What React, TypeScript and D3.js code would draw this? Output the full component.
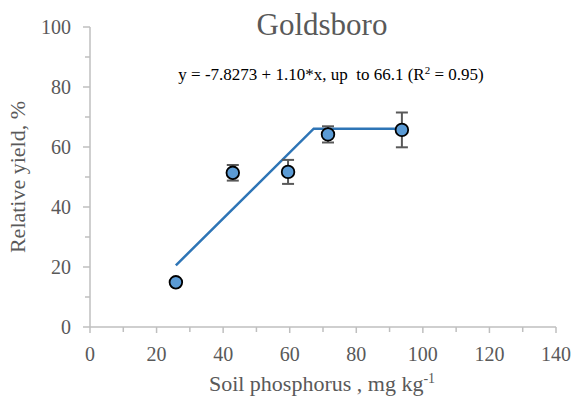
import React from 'react';
import * as d3 from 'd3';

// Soil P (mg/kg), relative yield (%), and error bar half-widths
const soilP = [25.8, 42.9, 59.5, 71.5, 93.7];
const relYield = [14.9, 51.4, 51.7, 64.2, 65.7];
const yieldErr = [0, 2.6, 4.0, 2.7, 5.8];

// Linear-plateau fit
const intercept = -7.8273;
const slope = 1.1;
const plateau = 66.1;
const fitStart = 25.8;
const fitEnd = 93.7;

const xTicks = [0, 20, 40, 60, 80, 100, 120, 140];
const yTicks = [0, 20, 40, 60, 80, 100];
const xMinor = [10, 30, 50, 70, 90, 110, 130];
const yMinor = [10, 30, 50, 70, 90];

const FONT = "'Liberation Serif', Tinos, 'Times New Roman', FreeSerif, serif";
const GREY = '#595959';
const AXIS = '#BFBFBF';

export default function App() {
  const x = d3.scaleLinear().domain([0, 140]).range([90, 556]);
  const y = d3.scaleLinear().domain([0, 100]).range([327, 27]);

  const join = (plateau - intercept) / slope;
  const fit: [number, number][] = [
    [fitStart, intercept + slope * fitStart],
    [join, plateau],
    [fitEnd, plateau],
  ];
  const line = d3
    .line<[number, number]>()
    .x((d) => x(d[0]))
    .y((d) => y(d[1]));

  const pts = soilP.map((p, i) => ({ p, v: relYield[i], e: yieldErr[i] }));

  return (
    <svg
      width={576}
      height={403}
      fontFamily={FONT}
      style={{ position: 'absolute', left: 0, top: 0, background: '#fff' }}
    >
      {/* Y axis */}
      <line x1={x(0)} x2={x(0)} y1={y(0)} y2={y(100)} stroke={AXIS} strokeWidth={1.5} />
      {yTicks.map((t) => (
        <g key={'yt' + t}>
          <line x1={x(0) - 7} x2={x(0)} y1={y(t)} y2={y(t)} stroke={AXIS} strokeWidth={1.5} />
          <text
            x={x(0) - 19}
            y={y(t)}
            dy="0.35em"
            textAnchor="end"
            fontFamily={FONT}
            fontSize={20}
            fill={GREY}
          >
            {t}
          </text>
        </g>
      ))}
      {yMinor.map((t) => (
        <line key={'ym' + t} x1={x(0) - 5} x2={x(0)} y1={y(t)} y2={y(t)} stroke={AXIS} strokeWidth={1.5} />
      ))}

      {/* X axis */}
      <line x1={x(0)} x2={x(140)} y1={y(0)} y2={y(0)} stroke={AXIS} strokeWidth={1.5} />
      {xTicks.map((t) => (
        <g key={'xt' + t}>
          <line x1={x(t)} x2={x(t)} y1={y(0)} y2={y(0) + 6} stroke={AXIS} strokeWidth={1.5} />
          <text
            x={x(t)}
            y={y(0) + 34}
            textAnchor="middle"
            fontFamily={FONT}
            fontSize={20}
            fill={GREY}
          >
            {t}
          </text>
        </g>
      ))}
      {xMinor.map((t) => (
        <line key={'xm' + t} x1={x(t)} x2={x(t)} y1={y(0)} y2={y(0) + 5} stroke={AXIS} strokeWidth={1.5} />
      ))}

      {/* Linear-plateau fit */}
      <path d={line(fit) || ''} fill="none" stroke="#2E75B6" strokeWidth={2.5} />

      {/* Error bars */}
      {pts
        .filter((d) => d.e > 0)
        .map((d, i) => (
          <g key={'eb' + i} stroke={GREY} strokeWidth={2}>
            <line x1={x(d.p)} x2={x(d.p)} y1={y(d.v + d.e)} y2={y(d.v - d.e)} />
            <line x1={x(d.p) - 6} x2={x(d.p) + 6} y1={y(d.v + d.e)} y2={y(d.v + d.e)} />
            <line x1={x(d.p) - 6} x2={x(d.p) + 6} y1={y(d.v - d.e)} y2={y(d.v - d.e)} />
          </g>
        ))}

      {/* Points */}
      {pts.map((d, i) => (
        <circle
          key={'pt' + i}
          cx={x(d.p)}
          cy={y(d.v)}
          r={6.3}
          fill="#5B9BD5"
          stroke="#000"
          strokeWidth={1.8}
        />
      ))}

      {/* Title */}
      <text x={322} y={35} textAnchor="middle" fontFamily={FONT} fontSize={31} fill={GREY}>
        Goldsboro
      </text>

      {/* Equation */}
      <text x={331} y={80} textAnchor="middle" fontFamily={FONT} fontSize={17} fill="#000" style={{ whiteSpace: 'pre' }}>
        <tspan>{'y = -7.8273 + 1.10*x, up  to 66.1 (R'}</tspan>
        <tspan dy={-6} fontSize={11}>2</tspan>
        <tspan dy={6}>{' = 0.95)'}</tspan>
      </text>

      {/* Axis titles */}
      <text x={322} y={391} textAnchor="middle" fontFamily={FONT} fontSize={22} fill={GREY}>
        <tspan>Soil phosphorus , mg kg</tspan>
        <tspan dy={-8} fontSize={14}>-1</tspan>
      </text>
      <text
        transform="translate(25,177) rotate(-90)"
        textAnchor="middle"
        fontFamily={FONT}
        fontSize={22}
        fill={GREY}
      >
        Relative yield, %
      </text>
    </svg>
  );
}
